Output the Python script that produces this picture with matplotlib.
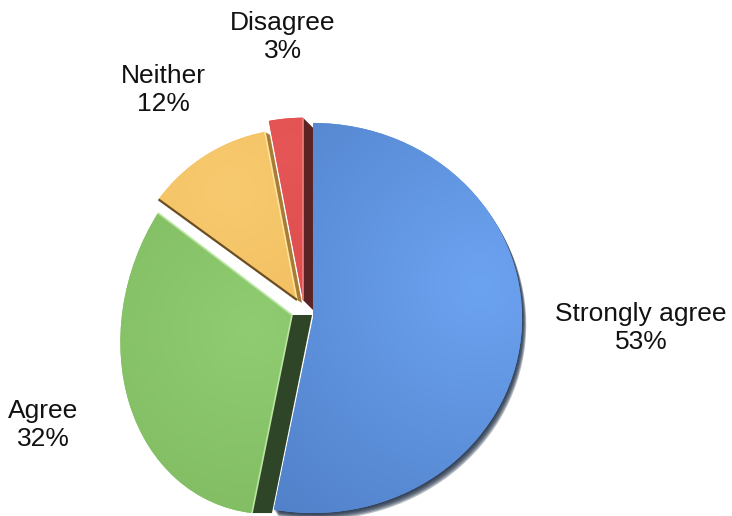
import math
import numpy as np
import matplotlib
matplotlib.use("Agg")
import matplotlib.pyplot as plt
from matplotlib.patches import Polygon, Wedge
from matplotlib.transforms import Affine2D
from matplotlib.colors import to_rgb

# survey answers and their shares (%)
categories = ["Strongly agree", "Agree", "Neither", "Disagree"]
shares = [53, 32, 12, 3]

# styling
face_colors = ["#5f95e3", "#88c46a", "#f5c264", "#e04f4f"]
light_colors = ["#6ca3f1", "#90cc72", "#f8ca6f", "#e65656"]
dark_colors = ["#5181c9", "#7fba61", "#f0bb5b", "#da4a4a"]
side_colors = ["#1c2c44", "#2f4527", "#a87c36", "#5b2323"]
edge_light = [None, "#b9e6a0", "#fde39c", "#f08080"]
explode = [0.0, 0.10, 0.13, 0.075]
# perspective look: per-slice linear map of the face and a small extra shift (px)
face_matrix = [((1.118, 0.0), (0.0, 1.043)),
               ((0.917, 0.043), (0.096, 1.06)),
               ((0.915, 0.0), (0.0, 0.915)),
               ((0.975, 0.0), (0.0, 0.975))]
face_offset_px = [(0, 0), (-3.6, 9.9), (-3.0, -2.5), (-8.7, 4.0)]
# extrusion of the right-hand radial face (px, y up)
side_shift_px = [(0, 0), (20, 0), (5, -3), (10, -10)]
# shading: brightest point (px from top-left) and fall-off distance (px)
light_pts_px = [(480, 285), (250, 330), (230, 190), (290, 150)]
light_spread_px = [300, 230, 200, 200]
label_xy_px = [(641, 328), (43, 425), (163, 90), (283, 37)]

W, H = 732, 516
CX, CY, R = 313, H - 318, 187.0   # pie centre / radius in pixels (y up)

fig = plt.figure(figsize=(W / 100, H / 100), dpi=100)
ax = fig.add_axes([0, 0, 1, 1])

wedges, _ = ax.pie(shares, explode=explode, startangle=90, counterclock=False,
                   colors=face_colors, wedgeprops=dict(linewidth=0))

extent = (-CX / R, (W - CX) / R, -CY / R, (H - CY) / R)
ax.set_aspect("equal")
ax.axis("off")


def face_transform(i, w):
    cx0, cy0 = w.center
    (a, b), (c, d) = face_matrix[i]
    ox, oy = face_offset_px[i]
    m = Affine2D(np.array([[a, b, 0.0], [c, d, 0.0], [0.0, 0.0, 1.0]]))
    return (Affine2D().translate(-cx0, -cy0) + m
            + Affine2D().translate(cx0 + ox / R, cy0 + oy / R))


def edge_points(i, w, theta):
    c = np.array(w.center)
    p1 = c + w.r * np.array([math.cos(math.radians(theta)), math.sin(math.radians(theta))])
    return face_tr[i].transform([c, p1])


face_tr = []
for i, w in enumerate(wedges):
    tr = face_transform(i, w)
    face_tr.append(tr)
    w.set_transform(tr + ax.transData)
    w.set_zorder(3)

# extruded side faces along the right-hand radial edge of the exploded slices
for i, w in enumerate(wedges):
    sx, sy = side_shift_px[i]
    if sx == 0 and sy == 0:
        continue
    th = max((w.theta1, w.theta2), key=lambda a: math.cos(math.radians(a)))
    p0, p1 = edge_points(i, w, th)
    s = np.array([sx, sy]) / R
    ax.add_patch(Polygon([p0, p1, p1 + s, p0 + s], closed=True,
                         facecolor=side_colors[i], edgecolor="none", zorder=1))

# dark rim under the big slice
bw = wedges[0]
for k in range(6, 0, -1):
    off = Affine2D().translate(0.7 * k / R, -1.1 * k / R)
    rim = Wedge(bw.center, bw.r, bw.theta1, bw.theta2,
                facecolor=side_colors[0], edgecolor="none", alpha=0.3, zorder=2)
    rim.set_transform(face_tr[0] + off + ax.transData)
    ax.add_patch(rim)

# soft shading on each face
px_x, px_y = np.meshgrid(np.arange(W) + 0.5, np.arange(H) + 0.5)
for i, w in enumerate(wedges):
    lx, ly = light_pts_px[i]
    t = np.clip(np.hypot(px_x - lx, px_y - ly) / light_spread_px[i], 0, 1)[..., None]
    img = (1 - t) * np.array(to_rgb(light_colors[i])) + t * np.array(to_rgb(dark_colors[i]))
    im = ax.imshow(img, extent=extent, origin="upper", interpolation="bilinear", zorder=4)
    im.set_clip_path(w)

# bevel highlights on the cut edges, and the shadowed lower edge of "Neither"
for i, w in enumerate(wedges):
    if edge_light[i] is None:
        continue
    right = max((w.theta1, w.theta2), key=lambda a: math.cos(math.radians(a)))
    left = min((w.theta1, w.theta2), key=lambda a: math.cos(math.radians(a)))
    p0, p1 = edge_points(i, w, right)
    ax.plot([p0[0], p1[0]], [p0[1], p1[1]], color=edge_light[i], lw=1.2,
            solid_capstyle="butt", zorder=5)
    q0, q1 = edge_points(i, w, left)
    if i == 1:
        ax.plot([q0[0], q1[0]], [q0[1], q1[1]], color=edge_light[i], lw=1.2,
                solid_capstyle="butt", zorder=5)
    elif i == 2:
        ax.plot([q0[0], q1[0]], [q0[1], q1[1]], color="#6b4e22", lw=1.6,
                solid_capstyle="butt", zorder=5)

ax.set_xlim(extent[0], extent[1])
ax.set_ylim(extent[2], extent[3])

# labels
for i, (cat, val) in enumerate(zip(categories, shares)):
    x, y = label_xy_px[i]
    ax.text(x / W, 1 - y / H, f"{cat}\n{val}%", transform=ax.transAxes,
            ha="center", va="center", fontsize=19, family="Liberation Sans",
            color="#111111", linespacing=1.2, zorder=6)

fig.savefig("out.png", dpi=100)
